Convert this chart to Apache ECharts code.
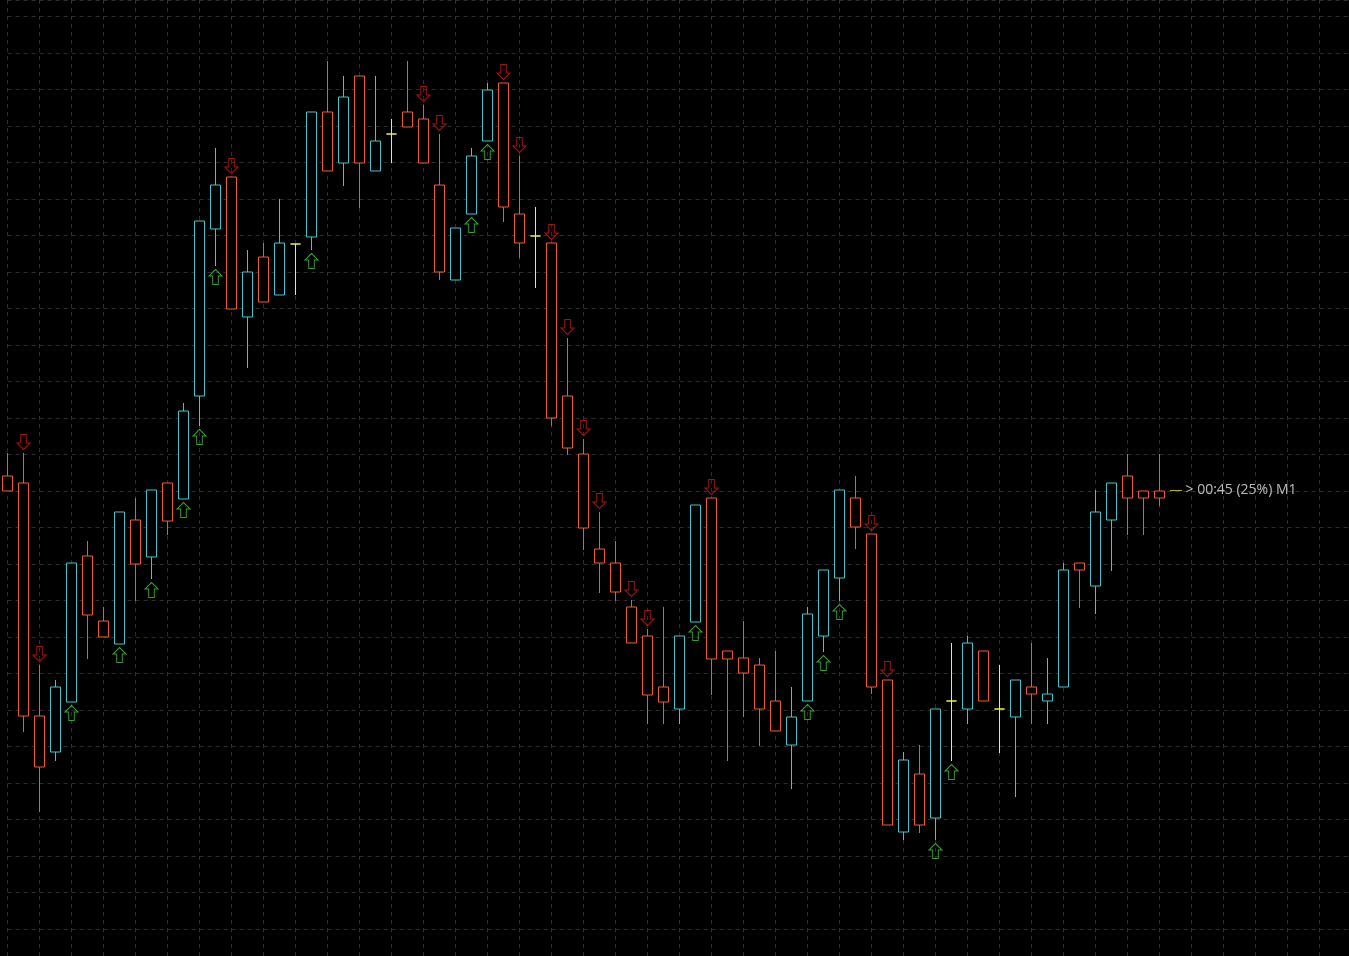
<!DOCTYPE html>
<html>
<head>
<meta charset="utf-8">
<title>M1</title>
<script src="https://cdn.jsdelivr.net/npm/echarts@6/dist/echarts.min.js"></script>
<style>
    html, body { margin: 0; padding: 0; background: #000; }
    #chart { width: 1349px; height: 956px; }
</style>
</head>
<body>
<div id="chart"></div>
<script>
// M1 bars, oldest first
let opens = [
    1.09515, 1.09508, 1.09275, 1.09239, 1.09289, 1.09435, 1.09370, 1.09347, 1.09471, 1.09434,
    1.09508, 1.09492, 1.09595, 1.09762, 1.09814, 1.09674, 1.09734, 1.09696, 1.09747, 1.09754,
    1.09879, 1.09828, 1.09915, 1.09820, 1.09857, 1.09879, 1.09872, 1.09806, 1.09711, 1.09777,
    1.09850, 1.09908, 1.09777, 1.09755, 1.09748, 1.09595, 1.09537, 1.09442, 1.09428, 1.09384,
    1.09355, 1.09304, 1.09282, 1.09369, 1.09493, 1.09340, 1.09333, 1.09326, 1.09290, 1.09246,
    1.09290, 1.09355, 1.09413, 1.09493, 1.09457, 1.09311, 1.09159, 1.09217, 1.09173, 1.09290,
    1.09282, 1.09340, 1.09282, 1.09274, 1.09304, 1.09290, 1.09304, 1.09428, 1.09405, 1.09471,
    1.09515, 1.09500, 1.09500
]
let highs = [
    1.09538, 1.09538, 1.09326, 1.09311, 1.09428, 1.09450, 1.09384, 1.09479, 1.09493, 1.09501,
    1.09508, 1.09588, 1.09770, 1.09843, 1.09814, 1.09741, 1.09748, 1.09792, 1.09747, 1.09879,
    1.09930, 1.09915, 1.09915, 1.09915, 1.09872, 1.09930, 1.09886, 1.09857, 1.09763, 1.09843,
    1.09908, 1.09908, 1.09835, 1.09784, 1.09748, 1.09653, 1.09552, 1.09479, 1.09450, 1.09391,
    1.09362, 1.09384, 1.09355, 1.09486, 1.09493, 1.09340, 1.09370, 1.09333, 1.09340, 1.09304,
    1.09384, 1.09421, 1.09501, 1.09515, 1.09457, 1.09311, 1.09239, 1.09246, 1.09282, 1.09348,
    1.09355, 1.09340, 1.09326, 1.09311, 1.09348, 1.09333, 1.09428, 1.09428, 1.09501, 1.09508,
    1.09537, 1.09500, 1.09537
]
let lows = [
    1.09500, 1.09259, 1.09179, 1.09230, 1.09289, 1.09332, 1.09354, 1.09347, 1.09390, 1.09412,
    1.09456, 1.09492, 1.09565, 1.09725, 1.09682, 1.09623, 1.09689, 1.09696, 1.09696, 1.09741,
    1.09820, 1.09805, 1.09783, 1.09820, 1.09828, 1.09864, 1.09828, 1.09711, 1.09711, 1.09777,
    1.09850, 1.09769, 1.09733, 1.09703, 1.09565, 1.09536, 1.09441, 1.09398, 1.09390, 1.09348,
    1.09267, 1.09267, 1.09267, 1.09369, 1.09296, 1.09230, 1.09274, 1.09245, 1.09260, 1.09202,
    1.09290, 1.09339, 1.09390, 1.09442, 1.09297, 1.09166, 1.09151, 1.09158, 1.09151, 1.09230,
    1.09267, 1.09290, 1.09238, 1.09194, 1.09267, 1.09267, 1.09304, 1.09383, 1.09377, 1.09420,
    1.09456, 1.09456, 1.09485
]
let closes = [
    1.09500, 1.09275, 1.09224, 1.09304, 1.09428, 1.09376, 1.09354, 1.09479, 1.09427, 1.09501,
    1.09470, 1.09580, 1.09770, 1.09806, 1.09682, 1.09719, 1.09689, 1.09748, 1.09747, 1.09879,
    1.09820, 1.09894, 1.09828, 1.09850, 1.09857, 1.09864, 1.09828, 1.09719, 1.09763, 1.09835,
    1.09901, 1.09784, 1.09748, 1.09755, 1.09573, 1.09543, 1.09463, 1.09428, 1.09399, 1.09348,
    1.09296, 1.09289, 1.09355, 1.09486, 1.09332, 1.09332, 1.09318, 1.09282, 1.09260, 1.09274,
    1.09377, 1.09421, 1.09501, 1.09464, 1.09304, 1.09166, 1.09231, 1.09166, 1.09282, 1.09290,
    1.09348, 1.09290, 1.09282, 1.09311, 1.09297, 1.09297, 1.09421, 1.09421, 1.09479, 1.09508,
    1.09493, 1.09493, 1.09493
]

// bars that got a signal arrow
let upArrowBars = [4, 7, 9, 11, 12, 13, 19, 29, 30, 43, 50, 51, 52, 58, 59]
let downArrowBars = [1, 2, 14, 26, 27, 31, 32, 34, 35, 36, 37, 39, 40, 44, 54, 55]

let bidPrice = 1.09501
let timerText = '> 00:45 (25%) M1'

// time slots, incl. empty space right of the last bar
let times = []
for (let i = 0; i < 85; i++) {
    let m = 7 + i
    times.push('14:' + String(m % 60).padStart(2, '0'))
}

let candles = opens.map((o, i) => [o, closes[i], lows[i], highs[i]])
let upArrows = upArrowBars.map(i => [i, lows[i]])
let downArrows = downArrowBars.map(i => [i, highs[i]])

const upPath = 'path://M7 0 L14 7 L10 7 L10 16 L4 16 L4 7 L0 7 Z'
const downPath = 'path://M7 16 L14 9 L10 9 L10 0 L4 0 L4 9 L0 9 Z'

let myChart = echarts.init(document.getElementById('chart'))
let option = {
    backgroundColor: '#000',
    animation: false,
    grid: {
        left: 7.5,
        top: 0,
        width: 1344,
        height: 965.5,
        outerBoundsMode: 'none'
    },
    xAxis: {
        type: 'category',
        data: times,
        boundaryGap: false,
        axisLine: { show: false },
        axisTick: { show: false },
        axisLabel: { show: false },
        splitLine: {
            show: true,
            interval: 1,
            lineStyle: { color: '#2e2e2e', type: [4, 4], width: 1 }
        }
    },
    yAxis: {
        type: 'value',
        min: 1.090255,
        max: 1.09991,
        interval: 0.000365,
        axisLine: { show: false },
        axisTick: { show: false },
        axisLabel: { show: false },
        splitLine: {
            show: true,
            lineStyle: { color: '#2e2e2e', type: [4, 4], width: 1 }
        }
    },
    series: [
        {
            name: 'price',
            type: 'candlestick',
            data: candles,
            barWidth: 10,
            clip: false,
            itemStyle: {
                color: '#000',
                color0: '#000',
                borderColor: '#3ec6cf',
                borderColor0: '#f25a2a',
                borderColorDoji: '#f0f050',
                borderWidth: 1
            },
            markLine: {
                silent: true,
                symbol: ['none', 'none'],
                label: { show: false },
                lineStyle: { color: '#3a3a3a', type: 'solid', width: 1 },
                data: [{ yAxis: bidPrice }]
            }
        },
        {
            name: 'up',
            type: 'scatter',
            data: upArrows,
            symbol: upPath,
            symbolSize: [13, 15],
            symbolOffset: [0, 11],
            itemStyle: { color: 'rgba(0,0,0,0)', borderColor: '#44c844', borderWidth: 1 }
        },
        {
            name: 'down',
            type: 'scatter',
            data: downArrows,
            symbol: downPath,
            symbolSize: [13, 15],
            symbolOffset: [0, -11],
            itemStyle: { color: 'rgba(0,0,0,0)', borderColor: '#d01818', borderWidth: 1 }
        },
        {
            name: 'timer',
            type: 'scatter',
            data: [[opens.length - 1, bidPrice]],
            symbolSize: 0,
            silent: true,
            label: {
                show: true,
                position: 'right',
                distance: 10,
                formatter: '{dash|—}{txt|' + timerText + '}',
                rich: {
                    dash: { color: '#f0f020', fontSize: 13, fontFamily: 'Open Sans', padding: [0, 3, 0, 0] },
                    txt: { color: '#e6e6e6', fontSize: 14, fontFamily: 'Open Sans' }
                }
            }
        }
    ]
}
myChart.setOption(option)
</script>
</body>
</html>
